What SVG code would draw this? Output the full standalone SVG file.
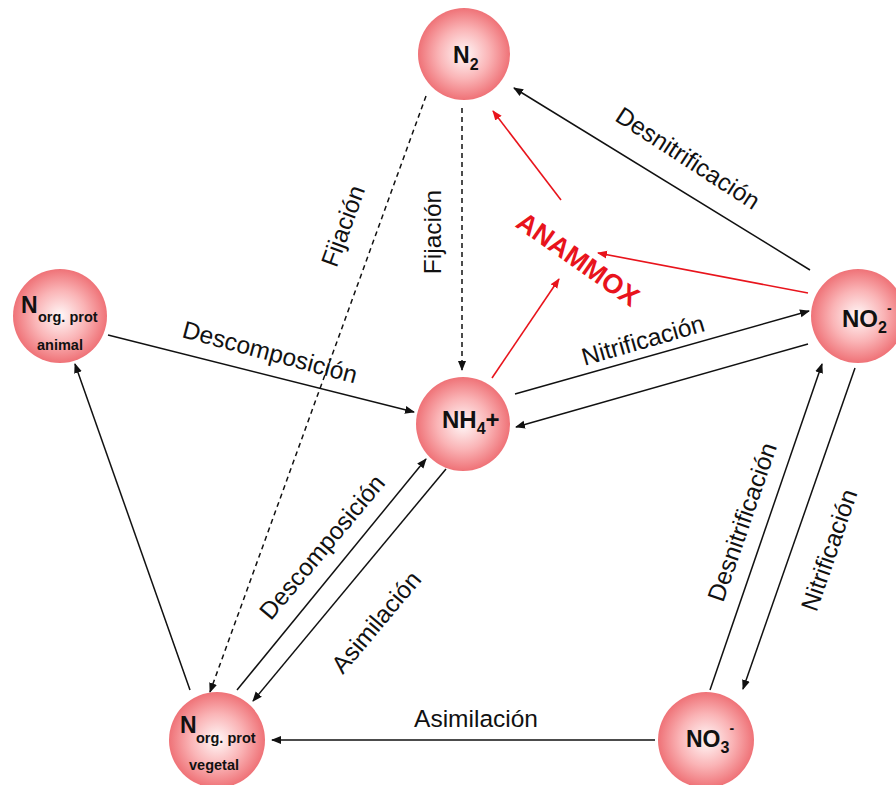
<svg xmlns="http://www.w3.org/2000/svg" width="896" height="785" viewBox="0 0 896 785">
<defs>
<radialGradient id="ball" cx="50%" cy="50%" r="50%">
<stop offset="0%" stop-color="#fff8f8"/>
<stop offset="55%" stop-color="#fab4b6"/>
<stop offset="100%" stop-color="#ef7277"/>
</radialGradient>
<marker id="ah" viewBox="0 0 10 10" refX="9" refY="5" markerWidth="10" markerHeight="10" markerUnits="userSpaceOnUse" orient="auto">
<path d="M0,1 L10,5 L0,9 z" fill="#111"/>
</marker>
<marker id="ahr" viewBox="0 0 10 10" refX="9" refY="5" markerWidth="10" markerHeight="10" markerUnits="userSpaceOnUse" orient="auto">
<path d="M0,1 L10,5 L0,9 z" fill="#e8141c"/>
</marker>
<style>
.ln{stroke:#111;stroke-width:1.5;fill:none;marker-end:url(#ah)}
.ds{stroke:#111;stroke-width:1.5;fill:none;stroke-dasharray:5,4;marker-end:url(#ah)}
.rd{stroke:#e8141c;stroke-width:1.6;fill:none;marker-end:url(#ahr)}
.lb{font-family:"Liberation Sans",Arial,sans-serif;font-size:24.5px;fill:#111;text-anchor:middle}
.nd{font-family:"Liberation Sans",Arial,sans-serif;font-weight:bold;fill:#111}
.ball{fill:url(#ball)}
</style>
</defs>
<g id="connectors">
<line class="ln" x1="810" y1="270" x2="514" y2="88"/>
<line class="rd" x1="808" y1="293" x2="598" y2="253"/>
<line class="rd" x1="492" y1="378" x2="559" y2="279"/>
<line class="rd" x1="561" y1="200" x2="493" y2="111"/>
<line class="ds" x1="462" y1="108" x2="462" y2="370"/>
<line class="ds" x1="426" y1="96" x2="210" y2="692"/>
<line class="ln" x1="108" y1="335" x2="414" y2="412"/>
<line class="ln" x1="515" y1="394" x2="809" y2="311"/>
<line class="ln" x1="808" y1="344" x2="516" y2="427"/>
<line class="ln" x1="237" y1="690" x2="426" y2="459"/>
<line class="ln" x1="446" y1="469" x2="253" y2="701"/>
<line class="ln" x1="190" y1="690" x2="75" y2="364"/>
<line class="ln" x1="655" y1="740" x2="272" y2="740"/>
<line class="ln" x1="710" y1="690" x2="822" y2="364"/>
<line class="ln" x1="855" y1="368" x2="743" y2="689"/>
</g>
<g id="labels">
<text class="lb" dy="0.35em" transform="translate(688,158) rotate(33)">Desnitrificación</text>
<text class="lb" dy="0.35em" transform="translate(343,226) rotate(-70)">Fijación</text>
<text class="lb" dy="0.35em" transform="translate(432,232) rotate(-90)">Fijación</text>
<text dy="0.35em" transform="translate(578,259) rotate(35)" style="font-family:'Liberation Sans',Arial,sans-serif;font-size:27px;font-weight:bold;fill:#e8141c;text-anchor:middle">ANAMMOX</text>
<text class="lb" dy="0.35em" transform="translate(270,352) rotate(15)">Descomposición</text>
<text class="lb" dy="0.35em" transform="translate(643,340) rotate(-16)">Nitrificación</text>
<text class="lb" dy="0.35em" transform="translate(322,547) rotate(-50)">Descomposición</text>
<text class="lb" dy="0.35em" transform="translate(376,622) rotate(-50)">Asimilación</text>
<text class="lb" dy="0.35em" transform="translate(742,522) rotate(-71)">Desnitrificación</text>
<text class="lb" dy="0.35em" transform="translate(829,550) rotate(-71)">Nitrificación</text>
<text class="lb" dy="0.35em" x="476" y="718">Asimilación</text>
</g>
<g id="n2">
<circle class="ball" cx="464" cy="54" r="46"/>
<text class="nd" x="453" y="63" font-size="23">N<tspan font-size="16" dy="7">2</tspan></text>
</g>
<g id="norg-animal">
<circle class="ball" cx="60" cy="316" r="47"/>
<text class="nd" x="21" y="313" font-size="23">N</text>
<text class="nd" x="38" y="322" font-size="14.5">org. prot</text>
<text class="nd" x="37" y="350" font-size="14.5">animal</text>
</g>
<g id="nh4">
<circle class="ball" cx="463" cy="424" r="47"/>
<text class="nd" x="442" y="428" font-size="24">NH<tspan font-size="16" dy="6">4</tspan><tspan dy="-6">+</tspan></text>
</g>
<g id="no2">
<circle class="ball" cx="858" cy="316" r="47"/>
<text class="nd" x="842" y="327" font-size="24">NO<tspan font-size="16" dy="6">2</tspan><tspan font-size="14" dy="-20">-</tspan></text>
</g>
<g id="norg-vegetal">
<circle class="ball" cx="217" cy="740" r="48"/>
<text class="nd" x="180" y="733" font-size="23">N</text>
<text class="nd" x="196" y="743" font-size="14.5">org. prot</text>
<text class="nd" x="189" y="770" font-size="14.5">vegetal</text>
</g>
<g id="no3">
<circle class="ball" cx="706" cy="740" r="48"/>
<text class="nd" x="686" y="747" font-size="23">NO<tspan font-size="16" dy="6">3</tspan><tspan font-size="14" dy="-20">-</tspan></text>
</g>
</svg>
